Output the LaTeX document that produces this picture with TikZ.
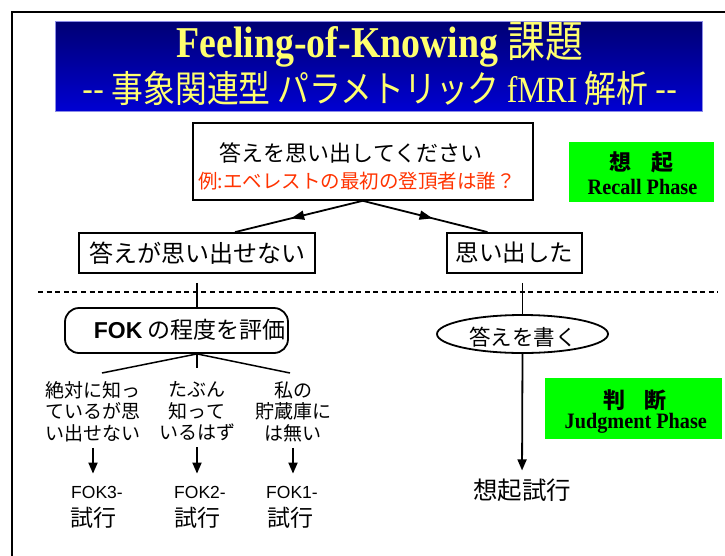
\documentclass[tikz,border=0pt]{standalone}
\usepackage{fontspec}
\usepackage{graphicx}
\setmainfont{Liberation Serif}
\setsansfont{Liberation Sans}
\newfontfamily\jp{Noto Sans CJK JP}
\usetikzlibrary{shapes.geometric,arrows.meta,decorations.markings}
\definecolor{navytop}{RGB}{0,0,115}
\definecolor{navybot}{RGB}{0,0,210}
\definecolor{navyedge}{RGB}{140,140,230}
\definecolor{titleyellow}{RGB}{255,255,110}
\definecolor{exred}{RGB}{255,51,0}
\definecolor{phasegreen}{RGB}{0,255,0}
\tikzset{
  conn/.style={line width=1.8pt},
  box/.style={draw, line width=1.8pt, inner sep=0pt},
  arr/.style={line width=1.8pt, -{Triangle[length=11pt,width=9pt]}},
  midarrow/.style={line width=1.8pt,
    decoration={markings, mark=at position 0.56 with {\arrow{Triangle[length=13pt,width=9pt]}}},
    postaction={decorate}},
  phasebox/.style={fill=phasegreen, inner sep=0pt},
  txt/.style={inner sep=0pt, align=center},
}
\begin{document}
\begin{tikzpicture}[x=1pt,y=-1pt]
\useasboundingbox (0,0) rectangle (725,555);
\fill[white] (0,0) rectangle (725,555);
% outer frame
\draw[line width=1.5pt] (12,560) -- (12,12) -- (730,12);

% title
\node[rectangle, top color=navytop, bottom color=navybot, draw=navyedge, line width=0.8pt,
      minimum width=647pt, minimum height=90pt, inner sep=0pt] (title) at (378.5,66) {};
\node[txt, text=titleyellow, font=\fontsize{44}{46}\selectfont] (t1) at (380,45)
  {\scalebox{0.86}[1]{\bfseries Feeling-of-Knowing {\jp\mdseries 課題}}};
\node[txt, text=titleyellow, font=\jp\fontsize{37}{38}\selectfont] (t2) at (380,88)
  {\scalebox{0.86}[1]{-{}- 事象関連型 パラメトリック {\rmfamily fMRI} 解析 -{}-}};

% recall phase
\node[box, minimum width=340pt, minimum height=77pt] (q) at (362.7,161.4) {};
\node[txt, font=\jp\fontsize{22}{24}\selectfont] (q1) at (351,153) {答えを思い出してください};
\node[txt, font=\jp\fontsize{19.5}{22}\selectfont, text=exred] (q2) at (357,181)
  {例:エベレストの最初の登頂者は誰？};

\node[box, minimum width=236pt, minimum height=40pt, font=\jp\fontsize{24}{26}\selectfont] (na) at (197,253) {答えが思い出せない};
\node[box, minimum width=135pt, minimum height=40pt, font=\jp\fontsize{23.5}{26}\selectfont] (ok) at (514.5,253) {思い出した};

\draw[midarrow] (q.south) -- ([xshift=38pt]na.north);
\draw[midarrow] (q.south) -- ([xshift=-27pt]ok.north);

\node[phasebox, minimum width=145pt, minimum height=60pt] (rp) at (641.5,172) {};
\node[txt, font=\jp\bfseries\fontsize{22}{24}\selectfont] (rp1) at (641.7,162) {想\hspace{0.9em}起};
\node[txt, font=\bfseries\fontsize{22}{24}\selectfont] (rp2) at (642.5,187) {\scalebox{0.92}[1]{Recall Phase}};

% divider
\draw[line width=2pt, dash pattern=on 5pt off 3.6pt] (38,292) -- (718,292);

% FOK branch
\node[draw, line width=1.8pt, rounded corners=14pt, minimum width=223pt, minimum height=45pt, inner sep=0pt] (fok) at (176.5,330.5) {};
\node[txt, font=\jp\fontsize{23}{25}\selectfont] (fokt) at (189.7,330) {{\sffamily\bfseries FOK} の程度を評価};
\draw[conn] ([yshift=-9pt]na.south) -- (na.south |- fok.north);

\coordinate (fan) at (na.south |- fok.south);
\coordinate (f1) at (102,373);
\coordinate (f2) at (197,368);
\coordinate (f3) at (290,373);
\draw[line width=1.5pt] (fan) -- (f1);
\draw[line width=1.5pt] (fan) -- (f2);
\draw[line width=1.5pt] (fan) -- (f3);

\node[txt, font=\jp\fontsize{19}{21.5}\selectfont] (c1) at (93,411.5) {絶対に知っ\\ているが思\\い出せない};
\node[txt, font=\jp\fontsize{19}{21.5}\selectfont] (c2) at (197,411.5) {たぶん\\知って\\いるはず};
\node[txt, font=\jp\fontsize{19}{21.5}\selectfont] (c3) at (293,411.5) {私の\\貯蔵庫に\\は無い};

\node[txt, font=\sffamily\fontsize{17.5}{19}\selectfont] (r1) at (97,492) {FOK3-};
\node[txt, font=\sffamily\fontsize{17.5}{19}\selectfont] (r2) at (200,492) {FOK2-};
\node[txt, font=\sffamily\fontsize{17.5}{19}\selectfont] (r3) at (292,492) {FOK1-};
\node[txt, font=\jp\fontsize{23}{25}\selectfont] (s1) at (93,518) {試行};
\node[txt, font=\jp\fontsize{23}{25}\selectfont] (s2) at (197,518) {試行};
\node[txt, font=\jp\fontsize{23}{25}\selectfont] (s3) at (290,518) {試行};

\draw[arr, shorten <=6pt, shorten >=12pt] (c1.south) -- (c1.south |- r1.north);
\draw[arr, shorten <=6pt, shorten >=12pt] (c2.south) -- (c2.south |- r2.north);
\draw[arr, shorten <=6pt, shorten >=12pt] (c3.south) -- (c3.south |- r3.north);

% recalled branch
\node[ellipse, draw, line width=1.8pt, minimum width=171pt, minimum height=38pt, inner sep=0pt] (ans) at (522.5,334) {};
\node[txt, font=\jp\fontsize{21.5}{23}\selectfont] (anst) at (523,337) {答えを書く};
\draw[conn] ([yshift=-9pt]ok.south -| ans.north) -- (ans.north);

\node[txt, font=\jp\fontsize{24.5}{26}\selectfont] (rec) at (522,490) {想起試行};
\draw[arr, shorten >=8pt] (ans.south) -- (rec.north);

% judgment phase
\node[phasebox, minimum width=177pt, minimum height=61pt] (jp) at (633.5,408.5) {};
\node[txt, font=\jp\bfseries\fontsize{22}{24}\selectfont] (jp1) at (635,400) {判\hspace{0.9em}断};
\node[txt, font=\bfseries\fontsize{22}{24}\selectfont] (jp2) at (635.8,423) {\scalebox{0.92}[1]{Judgment Phase}};
\end{tikzpicture}
\end{document}
